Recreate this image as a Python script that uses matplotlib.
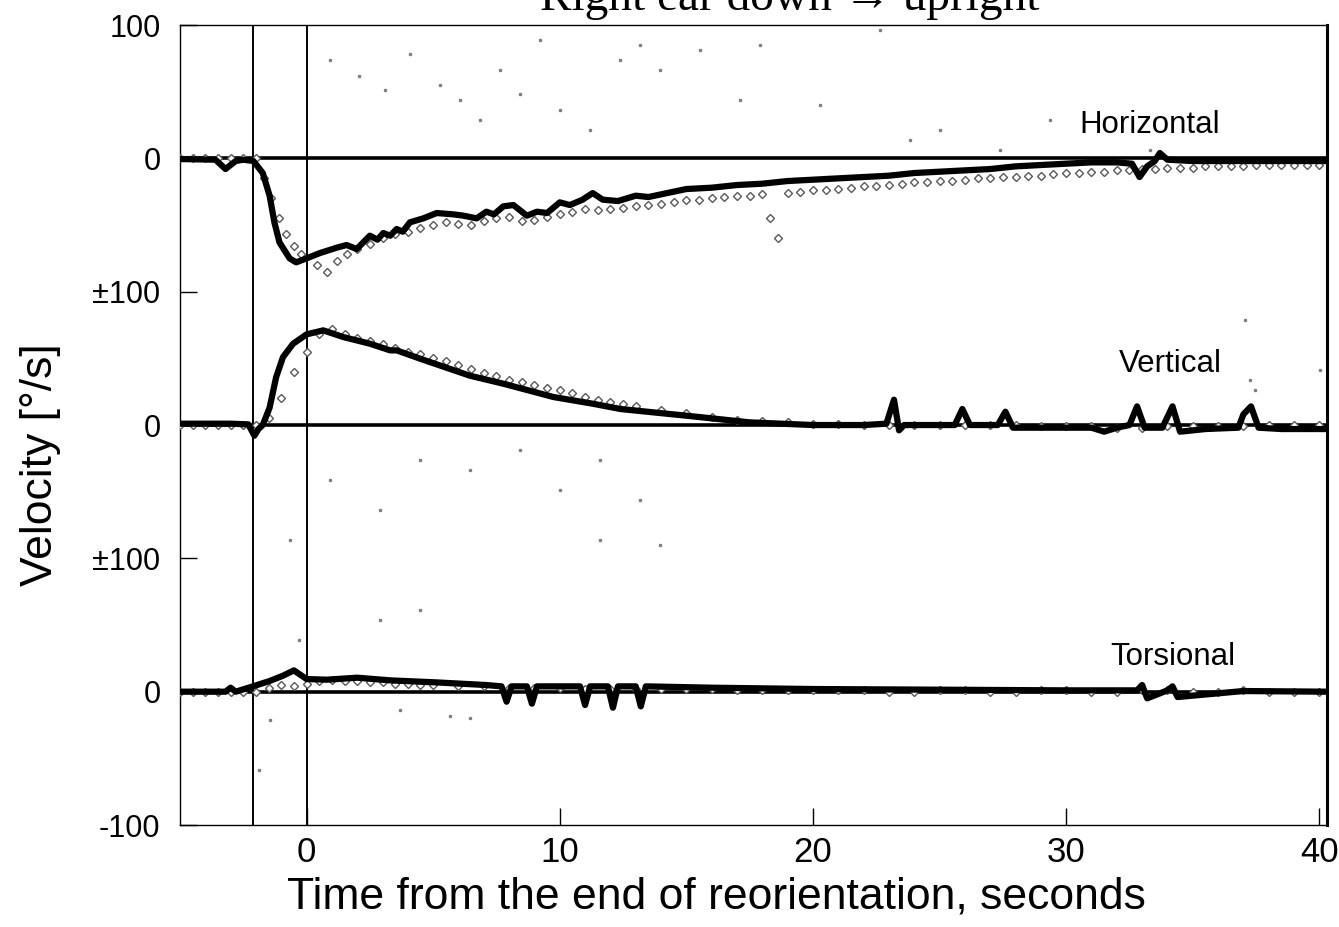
import matplotlib
matplotlib.use("Agg")
import matplotlib.pyplot as plt

# ---------------- data ----------------
# Horizontal eye velocity (deg/s), solid trace
h_t = [-5.0, -3.6, -3.2, -2.8, -2.5, -2.1, -1.73, -1.46, -1.27, -1.07, -0.67, -0.41, 0.0, 0.53,
       1.19, 1.58, 1.98, 2.5, 2.8, 3.03, 3.3, 3.56, 3.8, 4.08, 4.61, 5.14, 5.8, 6.2, 6.72, 7.1, 7.4, 7.77, 8.17,
       8.7, 9.1, 9.5, 10.0, 10.4, 10.9, 11.3, 11.7, 12.3, 13.0, 13.5, 14.0, 15.0, 16.0, 17.0,
       18.0, 19.0, 20.0, 21.0, 22.0, 23.0, 24.0, 25.0, 26.0, 27.0, 28.0, 29.0, 30.0,
       31.0, 32.0, 32.6, 32.9, 33.2, 33.5, 33.7, 34.0, 35.0, 36.0, 37.0, 38.0, 39.0, 40.3]
h_v = [-0.5, -1.0, -8.0, -2.0, -1.0, -2.0, -11.0, -28.0, -48.0, -63.0, -75.0, -78.0, -75.0, -71.0,
       -67.0, -65.0, -68.0, -58.0, -61.0, -56.0, -58.0, -53.0, -55.0, -48.0, -45.0, -41.0, -42.0, -43.0, -45.0, -40.0, -42.0, -36.0, -35.0,
       -43.0, -40.0, -41.0, -33.0, -35.0, -31.0, -26.0, -31.0, -32.0, -28.0, -29.0, -27.0, -23.0, -22.0, -20.0,
       -19.0, -17.0, -16.0, -15.0, -14.0, -13.0, -11.0, -10.0, -9.0, -8.0, -6.0, -5.0, -4.0,
       -3.0, -3.0, -4.0, -14.0, -6.0, -2.0, 4.0, -1.0, -2.0, -2.0, -2.0, -2.0, -2.0, -2.0]

# Horizontal, dotted (second sample)
hd_t = [-5.0, -4.5, -4.0, -3.5, -3.0, -2.5, -2.0, -1.7, -1.4, -1.1, -0.8, -0.5, -0.2, 0.4, 0.8, 1.2, 1.6, 2.0, 2.5,
        3.0, 3.5, 4.0, 4.5, 5.0, 5.5, 6.0, 6.5, 7.0, 7.5, 8.0, 8.5, 9.0, 9.5, 10.0, 10.5, 11.0, 11.5, 12.0, 12.5,
        13.0, 13.5, 14.0, 14.5, 15.0, 15.5, 16.0, 16.5, 17.0, 17.5, 18.0, 18.3, 18.6, 19.0, 19.5, 20.0, 20.5,
        21.0, 21.5, 22.0, 22.5, 23.0, 23.5, 24.0, 24.5, 25.0, 25.5, 26.0, 26.5, 27.0, 27.5, 28.0, 28.5,
        29.0, 29.5, 30.0, 30.5, 31.0, 31.5, 32.0, 32.5, 33.0, 33.5, 34.0, 34.5, 35.0, 35.5, 36.0, 36.5,
        37.0, 37.5, 38.0, 38.5, 39.0, 39.5, 40.0]
hd_v = [0.0, 0.0, 0.0, 0.0, 0.0, 0.0, 0.0, -15.0, -30.0, -45.0, -57.0, -66.0, -72.0, -80.0, -85.0, -77.0, -72.0, -68.0, -64.0,
        -60.0, -57.0, -55.0, -52.0, -50.0, -48.0, -49.0, -50.0, -47.0, -45.0, -44.0, -47.0, -46.0, -44.0, -42.0, -40.0, -38.0, -39.0, -38.0, -37.0,
        -36.0, -35.0, -34.0, -33.0, -31.0, -31.0, -30.0, -29.0, -28.0, -28.0, -27.0, -45.0, -60.0, -26.0, -25.0, -24.0, -24.0,
        -23.0, -22.0, -21.0, -21.0, -20.0, -19.0, -18.0, -18.0, -17.0, -17.0, -16.0, -15.0, -15.0, -14.0, -14.0, -13.0,
        -13.0, -12.0, -11.0, -11.0, -10.0, -10.0, -9.0, -9.0, -8.0, -8.0, -7.0, -7.0, -7.0, -6.0, -6.0, -6.0,
        -6.0, -5.0, -5.0, -5.0, -5.0, -5.0, -5.0]

# Vertical eye velocity (deg/s), solid trace
v_t = [-5.0, -4.0, -3.0, -2.3, -2.06, -1.9, -1.73, -1.46, -1.2, -0.93, -0.53, 0.0, 0.66, 1.45,
       2.5, 3.3, 3.56, 4.6, 6.45, 7.77, 9.75, 11.3, 12.4, 15.0, 17.5, 20.0, 22.0, 22.9,
       23.2, 23.4, 23.6, 25.6, 25.9, 26.2, 27.3, 27.6, 27.9, 31.0, 31.5, 32.0, 32.5, 32.8,
       33.1, 33.8, 34.2, 34.5, 35.5, 36.8, 37.0, 37.3, 37.6, 38.5, 40.3]
v_v = [1.0, 1.0, 1.0, 0.5, -8.0, -3.0, 0.0, 13.0, 36.0, 51.0, 61.0, 68.0, 71.0, 66.0,
       61.0, 56.0, 56.0, 49.0, 37.0, 31.0, 21.0, 16.0, 12.0, 7.0, 2.0, 0.0, 0.0, 1.0,
       19.0, -4.0, 0.0, 0.0, 12.0, 0.0, 0.0, 10.0, -2.0, -2.0, -5.0, -2.0, 0.0, 14.0,
       -2.0, -2.0, 14.0, -5.0, -3.0, -2.0, 8.0, 14.0, -2.0, -3.0, -3.0]

# Vertical, dotted
vd_t = [-5.0, -4.5, -4.0, -3.5, -3.0, -2.5, -2.0, -1.5, -1.0, -0.5, 0.0, 0.5, 1.0, 1.5, 2.0, 2.5, 3.0, 3.5, 4.0,
        4.5, 5.0, 5.5, 6.0, 6.5, 7.0, 7.5, 8.0, 8.5, 9.0, 9.5, 10.0, 10.5, 11.0, 11.5, 12.0, 12.5, 13.0, 14.0,
        15.0, 16.0, 17.0, 18.0, 19.0, 20.0, 21.0, 22.0, 23.0, 24.0, 25.0, 26.0, 27.0, 28.0, 29.0, 30.0,
        31.0, 32.0, 33.0, 34.0, 35.0, 36.0, 37.0, 38.0, 39.0, 40.0]
vd_v = [0.0, 0.0, 0.0, 0.0, 0.0, 0.0, 0.0, 5.0, 20.0, 40.0, 55.0, 68.0, 72.0, 68.0, 65.0, 63.0, 61.0, 58.0, 55.0,
        53.0, 50.0, 48.0, 45.0, 42.0, 39.0, 37.0, 34.0, 32.0, 30.0, 28.0, 26.0, 24.0, 21.0, 19.0, 17.0, 16.0, 14.0, 11.0,
        9.0, 6.0, 4.0, 3.0, 2.0, 1.0, 1.0, 0.0, 0.0, 0.0, 0.0, 0.0, 0.0, 0.0, -1.0, -1.0,
        -1.0, -2.0, -2.0, -1.0, -1.0, -1.0, -1.0, 0.0, 0.0, 0.0]

# Torsional eye velocity (deg/s), solid trace
r_t = [-5.0, -3.2, -3.0, -2.8, -2.12, -1.46, -0.93, -0.5, 0.0, 0.8, 2.0, 3.3, 5.1, 7.1,
       7.7, 7.9, 8.1, 8.7, 8.9, 9.1, 10.8, 11.0, 11.2, 11.9, 12.1, 12.3, 13.0, 13.2, 13.4,
       16.0, 20.0, 25.0, 30.0, 32.8, 33.0, 33.2, 34.0, 34.2, 34.4, 37.0, 40.3]
r_v = [0.0, 0.0, 3.0, 0.0, 4.0, 8.0, 12.0, 16.0, 9.5, 9.0, 10.5, 8.5, 7.0, 5.0,
       4.0, -7.5, 4.0, 4.0, -9.0, 4.0, 4.0, -10.0, 4.0, 4.0, -12.0, 4.0, 4.0, -11.0, 4.0,
       3.0, 2.0, 1.5, 1.0, 1.0, 5.0, -5.0, 1.0, 4.0, -4.0, 0.5, 0.0]

# Torsional, dotted
rd_t = [-5.0, -4.5, -4.0, -3.5, -3.0, -2.5, -2.0, -1.5, -1.0, -0.5, 0.0, 0.5, 1.0, 1.5, 2.0, 2.5, 3.0, 3.5,
        4.0, 4.5, 5.0, 6.0, 7.0, 8.0, 9.0, 10.0, 11.0, 12.0, 13.0, 14.0, 15.0, 16.0, 17.0, 18.0, 19.0,
        20.0, 21.0, 22.0, 23.0, 24.0, 25.0, 26.0, 27.0, 28.0, 29.0, 30.0, 31.0, 32.0, 33.0, 34.0, 35.0,
        36.0, 37.0, 38.0, 39.0, 40.0]
rd_v = [0.0, 0.0, 0.0, 0.0, 0.0, 0.0, 0.0, 3.0, 5.0, 4.0, 6.0, 8.0, 9.0, 8.0, 8.0, 7.0, 7.0, 6.0,
        6.0, 5.0, 5.0, 4.0, 4.0, 3.0, 3.0, 3.0, 2.0, 2.0, 2.0, 2.0, 2.0, 2.0, 1.0, 1.0, 1.0,
        1.0, 1.0, 1.0, 0.0, 0.0, 1.0, 1.0, 0.0, 0.0, 1.0, 1.0, 0.0, 0.0, 1.0, 1.0, 0.0, 0.0, 1.0, 0.0, 0.0, 0.0]

# Scattered specks of the recording (time s, plotted value incl. trace offset)
speck_t = [0.91, 2.09, 3.08, 4.07, 5.26, 6.05, 6.84, 7.63, 8.42, 9.21, 10.0, 11.19, 12.37, 13.16,
           13.95, 15.53, 17.11, 17.91, 20.28, 22.65, 23.83, 25.02, 27.39, 29.37, 37.08, 37.27,
           0.91, 2.89, 4.47, 6.44, 8.42, 10.0, 11.58, 13.16, 13.95, 11.58, -0.67, 2.89, 4.47,
           -1.86, -1.46, -0.28, 5.65, 6.44, 3.68, 33.32, 37.47, 40.04]
speck_v = [474, 462, 451, 478, 455, 444, 429, 466, 448, 489, 436, 421, 474, 485,
           466, 481, 444, 485, 440, 496, 414, 421, 406, 429, 279, 234,
           159, 136, 174, 166, 181, 151, 174, 144, 110, 114, 114, 54, 61,
           -59, -21, 39, -18, -20, -14, 406, 226, 241]

# Vertical offsets of the three stacked traces
offsets = {"Horizontal": 400, "Vertical": 200, "Torsional": 0}
ytick_pos = [-100, 0, 100, 200, 300, 400, 500]
ytick_labels = ["-100", "0", "±100", "0", "±100", "0", "100"]
xtick_pos = [0, 10, 20, 30, 40]
event_times = [-2.1, 0.0]

# ---------------- figure ----------------
fig = plt.figure(figsize=(13.39, 9.27), dpi=100)
ax = fig.add_axes([0.1344, 0.110, 0.8566, 0.863])

sans = ["Liberation Sans", "DejaVu Sans"]

for b in offsets.values():
    ax.axhline(b, color="black", lw=2.6, zorder=2)
for t in event_times:
    ax.axvline(t, color="black", lw=1.4, zorder=2)

ax.plot(speck_t, speck_v, linestyle="none", marker="s", markersize=1.4,
        color="0.5", zorder=1)

series = [
    ("Horizontal", h_t, h_v, hd_t, hd_v),
    ("Vertical", v_t, v_v, vd_t, vd_v),
    ("Torsional", r_t, r_v, rd_t, rd_v),
]
for name, t, v, td, vd in series:
    off = offsets[name]
    ax.plot(td, [x + off for x in vd], linestyle="none", marker="D", markersize=4.5,
            markerfacecolor="white", markeredgecolor="0.35", markeredgewidth=1.0, zorder=3)
    ax.plot(t, [x + off for x in v], color="black", lw=4.5, solid_joinstyle="round",
            solid_capstyle="round", zorder=4)

ax.text(33.3, 425, "Horizontal", fontsize=22.5, family=sans, ha="center", va="center")
ax.text(34.1, 246, "Vertical", fontsize=22.5, family=sans, ha="center", va="center")
ax.text(34.2, 26, "Torsional", fontsize=22.5, family=sans, ha="center", va="center")

ax.set_xlim(-5, 40.3)
ax.set_ylim(-100, 500)
ax.set_xticks(xtick_pos)
ax.set_xticklabels([str(x) for x in xtick_pos], fontsize=25, family=sans)
ax.set_yticks(ytick_pos)
ax.set_yticklabels(ytick_labels, fontsize=22, family=sans)
ax.tick_params(direction="in", length=12, width=1.0, pad=8)
ax.tick_params(axis="y", pad=14)

for s in ax.spines.values():
    s.set_linewidth(1.0)
ax.spines["right"].set_linewidth(2.2)

ax.set_xlabel("Time from the end of reorientation, seconds", fontsize=32, family=sans)
ax.xaxis.set_label_coords(0.468, -0.064)
ax.xaxis.label.set_va("top")
ax.set_ylabel("Velocity [°/s]", fontsize=32, family=sans)
ax.yaxis.set_label_coords(-0.104, 0.45)

fig.text(0.59, 1 - 10 / 927, "Right ear down → upright", fontsize=34,
         family=["Liberation Serif", "DejaVu Serif"], ha="center", va="baseline")

fig.savefig("out.png", dpi=100)
